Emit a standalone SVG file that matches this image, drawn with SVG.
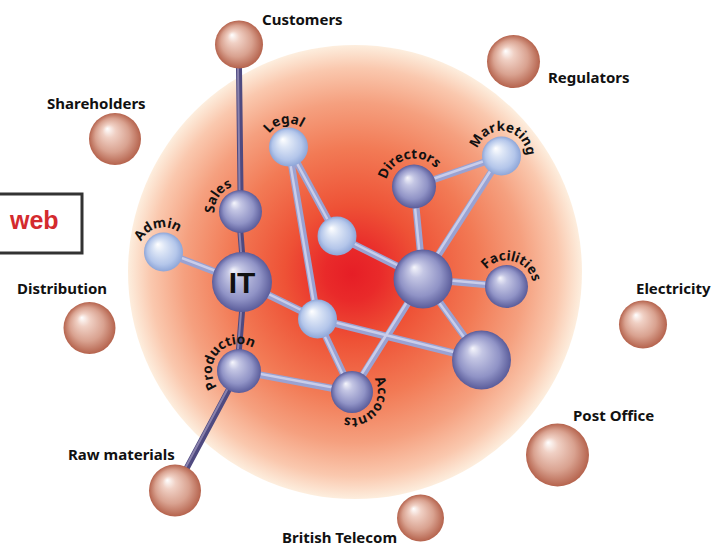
<svg xmlns="http://www.w3.org/2000/svg" width="715" height="548" viewBox="0 0 715 548">
<style>
.lbl{font-family:"Noto Sans","Open Sans",sans-serif;font-weight:bold;font-size:15px;fill:#111}
.cl{font-family:"Noto Sans","Open Sans",sans-serif;font-weight:bold;font-size:13.5px;fill:#111}
.lo{stroke:#9aa2d2;stroke-width:7;stroke-linecap:round;fill:none}
.li{stroke:#c9cdea;stroke-width:2.5;stroke-linecap:round;fill:none}
.do{stroke:#4f4a80;stroke-width:6;stroke-linecap:round;fill:none}
.di{stroke:#8a82ad;stroke-width:2;stroke-linecap:round;fill:none}
.bd{fill:url(#gBlue)}
.bl{fill:url(#gLight)}
.sa{fill:url(#gSalmon)}
</style>
<defs>
<radialGradient id="glow" gradientUnits="userSpaceOnUse" cx="355" cy="272" r="227" fx="352" fy="274">
<stop offset="0" stop-color="#e61e26"/>
<stop offset="0.12" stop-color="#e92a2a"/>
<stop offset="0.3" stop-color="#ee5236"/>
<stop offset="0.55" stop-color="#f27a55"/>
<stop offset="0.75" stop-color="#f5a07f"/>
<stop offset="0.9" stop-color="#fac8ae"/>
<stop offset="1" stop-color="#fdeede"/>
</radialGradient>
<radialGradient id="gBlue" cx="0.5" cy="0.5" r="0.5" fx="0.35" fy="0.3">
<stop offset="0" stop-color="#f6f6fc"/>
<stop offset="0.25" stop-color="#c4c6e4"/>
<stop offset="0.7" stop-color="#9093c6"/>
<stop offset="1" stop-color="#5a5c9a"/>
</radialGradient>
<radialGradient id="gLight" cx="0.5" cy="0.5" r="0.5" fx="0.35" fy="0.3">
<stop offset="0" stop-color="#ffffff"/>
<stop offset="0.3" stop-color="#dde6f6"/>
<stop offset="0.75" stop-color="#b4c6ea"/>
<stop offset="1" stop-color="#8ea6d8"/>
</radialGradient>
<radialGradient id="gSalmon" cx="0.5" cy="0.5" r="0.5" fx="0.35" fy="0.3">
<stop offset="0" stop-color="#ffffff"/>
<stop offset="0.25" stop-color="#f0d0c4"/>
<stop offset="0.65" stop-color="#d9a290"/>
<stop offset="1" stop-color="#b5634d"/>
</radialGradient>
<path id="pSales" d="M262.06,226.04 A26,26 0 1 1 218.94,196.96 A26,26 0 1 1 262.06,226.04"/>
<path id="pAdmin" d="M169.43,275.77 A24.5,24.5 0 1 1 157.57,228.23 A24.5,24.5 0 1 1 169.43,275.77"/>
<path id="pLegal" d="M292.98,170.07 A23.5,23.5 0 1 1 284.02,123.93 A23.5,23.5 0 1 1 292.98,170.07"/>
<path id="pDirectors" d="M420.3,213.78 A28,28 0 1 1 407.7,159.22 A28,28 0 1 1 420.3,213.78"/>
<path id="pMarketing" d="M498.02,180.76 A25,25 0 1 1 504.98,131.24 A25,25 0 1 1 498.02,180.76"/>
<path id="pFacilities" d="M499.77,311.61 A26,26 0 1 1 513.23,261.39 A26,26 0 1 1 499.77,311.61"/>
<path id="pProduction" d="M258.91,389.24 A27,27 0 1 1 219.09,352.76 A27,27 0 1 1 258.91,389.24"/>
<path id="pAccounts" d="M331.51,375.99 A26,26 0 1 1 372.49,408.01 A26,26 0 1 1 331.51,375.99"/>
</defs>
<rect width="715" height="548" fill="#ffffff"/>
<circle cx="355" cy="272" r="227" fill="url(#glow)"/>
<g id="web">
<rect x="-5" y="194" width="87" height="59" fill="#ffffff" stroke="#333333" stroke-width="3"/>
<text x="10" y="229" font-family="'Liberation Sans',Arial,sans-serif" font-weight="bold" font-size="25" fill="#d42a2e">web</text>
</g>
<g id="connectors">
<g class="dark">
<path class="do" d="M239,68 L240.5,190 M240.5,233 L242,252 M242,312 L239,349 M228,391 L175,490"/>
<path class="di" d="M238,68 L239.5,190 M239.5,233 L241,252 M241,312 L238,349 M227,390 L174,489"/>
</g>
<g class="light">
<path class="lo" d="M163.5,252 L242,282 M242,282 L317.5,319 M317.5,319 L481.5,360 M288.5,147 L317.5,319 M288.5,147 L337,236 M337,236 L423,279 M414,186.5 L423,279 M414,186.5 L501.5,156 M501.5,156 L423,279 M423,279 L506.5,286.5 M423,279 L481.5,360 M423,279 L352,392 M317.5,319 L352,392 M239,371 L352,392"/>
<path class="li" d="M163.5,251 L242,281 M242,281 L317.5,318 M317.5,318 L481.5,359 M287.5,147 L316.5,319 M287.5,146 L336,235 M337,235 L423,278 M413,186.5 L422,279 M414,185.5 L501.5,155 M500.5,155 L422,278 M423,278 L506.5,285.5 M422,279 L480.5,360 M422,278 L351,391 M316.5,319 L351,392 M239,370 L352,391"/>
</g>
</g>
<g id="customers"><circle class="sa" cx="239" cy="44.5" r="24"/><text class="lbl" x="262" y="25">Customers</text></g>
<g id="regulators"><circle class="sa" cx="513.5" cy="61.5" r="26.5"/><text class="lbl" x="548" y="83">Regulators</text></g>
<g id="shareholders"><circle class="sa" cx="115" cy="139" r="26"/><text class="lbl" x="47" y="109">Shareholders</text></g>
<g id="distribution"><circle class="sa" cx="89.5" cy="328" r="26"/><text class="lbl" x="17" y="294">Distribution</text></g>
<g id="rawmaterials"><circle class="sa" cx="175" cy="490.5" r="26"/><text class="lbl" x="68" y="460">Raw materials</text></g>
<g id="electricity"><circle class="sa" cx="643" cy="324.5" r="24"/><text class="lbl" x="636" y="294">Electricity</text></g>
<g id="postoffice"><circle class="sa" cx="557.5" cy="455" r="31.5"/><text class="lbl" x="573" y="421">Post Office</text></g>
<g id="britishtelecom"><circle class="sa" cx="420.5" cy="518" r="23.5"/><text class="lbl" x="282" y="543">British Telecom</text></g>
<g id="sales"><circle class="bd" cx="240.5" cy="211.5" r="21.5"/><text class="cl"><textPath href="#pSales" startOffset="50%" text-anchor="middle">Sales</textPath></text></g>
<g id="admin"><circle class="bl" cx="163.5" cy="252" r="19.5"/><text class="cl"><textPath href="#pAdmin" startOffset="50%" text-anchor="middle">Admin</textPath></text></g>
<g id="legal"><circle class="bl" cx="288.5" cy="147" r="19.5"/><text class="cl"><textPath href="#pLegal" startOffset="50%" text-anchor="middle">Legal</textPath></text></g>
<g id="centre-light"><circle class="bl" cx="337" cy="236" r="19.5"/></g>
<g id="directors"><circle class="bd" cx="414" cy="186.5" r="22"/><text class="cl"><textPath href="#pDirectors" startOffset="50%" text-anchor="middle">Directors</textPath></text></g>
<g id="marketing"><circle class="bl" cx="501.5" cy="156" r="19.5"/><text class="cl"><textPath href="#pMarketing" startOffset="50%" text-anchor="middle">Marketing</textPath></text></g>
<g id="hub"><circle class="bd" cx="423" cy="279" r="29.5"/></g>
<g id="facilities"><circle class="bd" cx="506.5" cy="286.5" r="21.5"/><text class="cl"><textPath href="#pFacilities" startOffset="50%" text-anchor="middle">Facilities</textPath></text></g>
<g id="lower-right"><circle class="bd" cx="481.5" cy="360" r="29.5"/></g>
<g id="middle-light"><circle class="bl" cx="317.5" cy="319" r="19.5"/></g>
<g id="production"><circle class="bd" cx="239" cy="371" r="22"/><text class="cl"><textPath href="#pProduction" startOffset="50%" text-anchor="middle">Production</textPath></text></g>
<g id="accounts"><circle class="bd" cx="352" cy="392" r="21"/><text class="cl"><textPath href="#pAccounts" startOffset="50%" text-anchor="middle">Accounts</textPath></text></g>
<g id="it"><circle class="bd" cx="242" cy="282" r="30"/><text x="242" y="293" text-anchor="middle" font-family="'Liberation Sans',Arial,sans-serif" font-weight="bold" font-size="30" fill="#111">IT</text></g>
</svg>
